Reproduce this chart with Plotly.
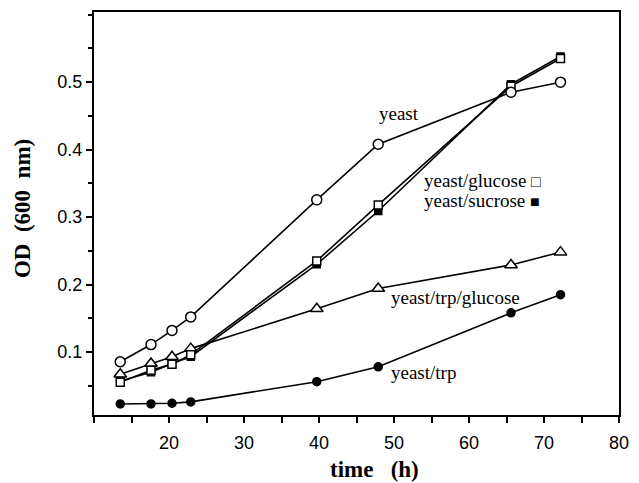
import plotly.graph_objects as go

time_h = [13.5, 17.6, 20.4, 22.9, 39.7, 47.9, 65.6, 72.2]
yeast = [0.0855, 0.111, 0.132, 0.152, 0.3255, 0.408, 0.485, 0.500]
yeast_glucose = [0.055, 0.073, 0.082, 0.096, 0.235, 0.318, 0.494, 0.535]
yeast_sucrose = [0.057, 0.070, 0.083, 0.093, 0.230, 0.309, 0.497, 0.538]
yeast_trp_glucose = [0.067, 0.083, 0.093, 0.105, 0.164, 0.194, 0.229, 0.248]
yeast_trp = [0.023, 0.023, 0.024, 0.026, 0.056, 0.078, 0.158, 0.185]

x_ticks = [20, 30, 40, 50, 60, 70, 80]
y_ticks = [0.1, 0.2, 0.3, 0.4, 0.5]

fig = go.Figure()
line = dict(color="black", width=1.6)

def add(y, symbol, size, fill, lw=1.5):
    fig.add_trace(go.Scatter(
        x=time_h, y=y, mode="lines+markers", line=line,
        marker=dict(symbol=symbol, size=size, color=fill,
                    line=dict(color="black", width=lw)),
        showlegend=False, cliponaxis=False))

add(yeast_trp, "circle", 8, "black")
add(yeast_trp_glucose, "triangle-up", 11, "white")
add(yeast_sucrose, "square", 7, "black")
add(yeast_glucose, "square", 8, "white")
add(yeast, "circle", 10, "white")

NB = "\u00a0"
labels = [
    ("yeast", 50.6, 0.4535, "center"),
    ("yeast/glucose" + NB + "<span style='font-size:16px'>\u25a1</span>", 53.9, 0.3545, "left"),
    ("yeast/sucrose" + NB + "<span style='font-size:16px'>\u25a0</span>", 53.9, 0.3245, "left"),
    ("yeast/trp/glucose", 49.5, 0.1814, "left"),
    ("yeast/trp", 49.5, 0.0693, "left"),
]
for text, x, y, anchor in labels:
    fig.add_annotation(x=x, y=y, text=text, showarrow=False, xanchor=anchor,
                       yanchor="middle", borderpad=0,
                       font=dict(family="Liberation Serif", size=19, color="black"))

title_font = dict(family="Liberation Serif", size=23, color="black", weight="bold")
fig.add_annotation(xref="paper", yref="paper", x=0.535, y=-0.136,
                   text="time" + NB * 3 + "(h)", showarrow=False,
                   xanchor="center", yanchor="middle", font=title_font)
fig.add_annotation(xref="paper", yref="paper", x=-0.1375, y=0.513,
                   text="OD" + NB * 2 + "(600" + NB * 2 + "nm)", showarrow=False,
                   textangle=-90, xanchor="center", yanchor="middle", font=title_font)

axis_common = dict(showgrid=False, zeroline=False, showline=True, linecolor="black",
                   linewidth=2, mirror=True, ticks="outside", tickcolor="black",
                   ticklen=6, tickwidth=1.5,
                   tickfont=dict(family="Liberation Sans", size=18, color="black"))

fig.update_xaxes(range=[10, 80], tickvals=x_ticks, ticktext=[str(v) for v in x_ticks],
                 ticklabelstandoff=4,
                 minor=dict(dtick=5, tick0=0, ticks="outside", ticklen=6, tickcolor="black", tickwidth=1.5),
                 **axis_common)
fig.update_yaxes(range=[0.0066, 0.604], tickvals=y_ticks, ticktext=[f"{v:.1f}" for v in y_ticks],
                 minor=dict(dtick=0.05, tick0=0, ticks="outside", ticklen=4, tickcolor="black", tickwidth=1.5),
                 **axis_common)

fig.update_layout(width=639, height=483, margin=dict(l=94, r=14, t=10, b=68),
                  plot_bgcolor="white", paper_bgcolor="white")

fig.write_html("out.html")
